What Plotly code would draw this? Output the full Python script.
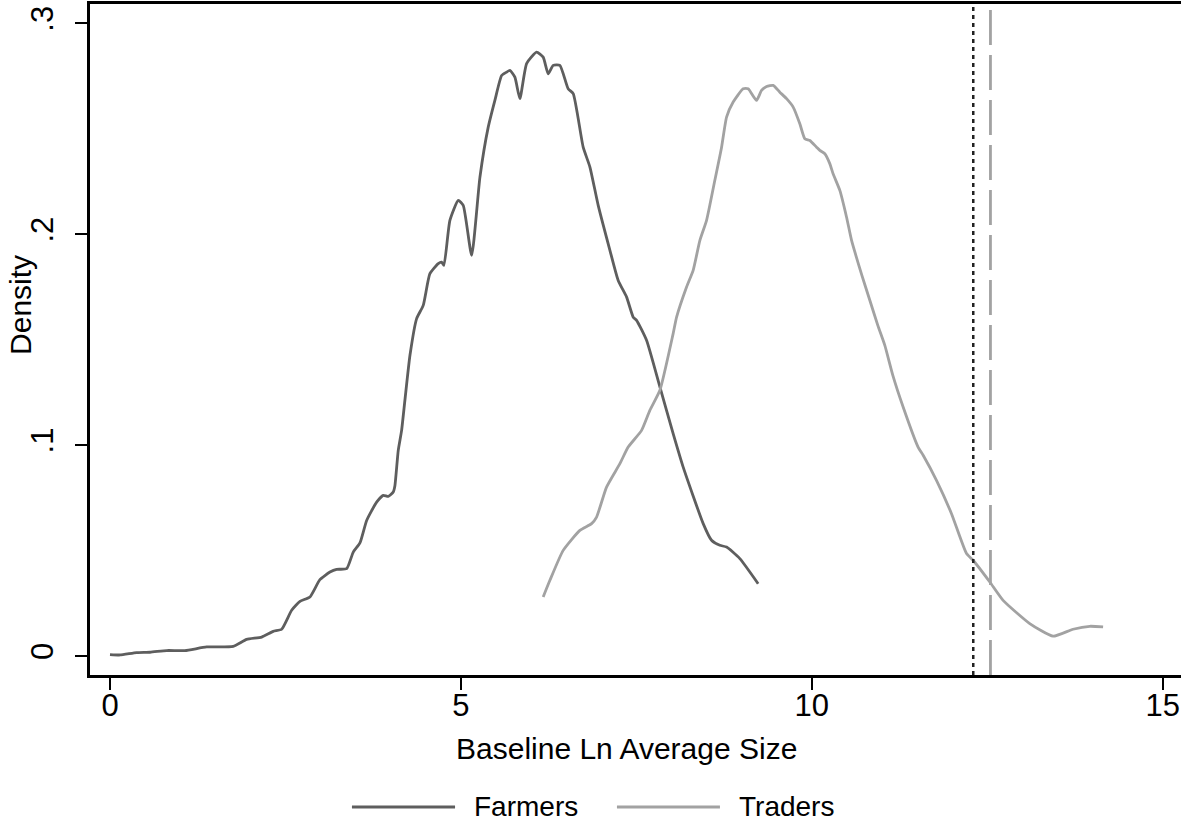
import plotly.graph_objects as go

# Kernel density estimates of baseline log average size
farmers_x = [0.00, 0.142, 0.380, 0.570, 0.808, 1.068, 1.377, 1.756, 1.947, 2.161, 2.326, 2.446,
             2.588, 2.707, 2.849, 2.991, 3.134, 3.229, 3.372, 3.466, 3.561, 3.657, 3.799, 3.893,
             3.964, 4.036, 4.060, 4.107, 4.155, 4.202, 4.274, 4.369, 4.463, 4.558, 4.677, 4.725,
             4.758, 4.843, 4.962, 5.033, 5.153, 5.271, 5.389, 5.484, 5.580, 5.651, 5.698, 5.769,
             5.840, 5.936, 6.078, 6.172, 6.243, 6.315, 6.410, 6.528, 6.600, 6.742, 6.838, 6.956,
             7.123, 7.241, 7.361, 7.455, 7.503, 7.645, 7.835, 8.024, 8.167, 8.452, 8.571, 8.689,
             8.785, 8.974, 9.235]
farmers_y = [0.0007, 0.0005, 0.0016, 0.0018, 0.0026, 0.0026, 0.0043, 0.0046, 0.0079, 0.0090, 0.0117, 0.0127,
             0.0217, 0.0259, 0.0280, 0.0362, 0.0398, 0.0411, 0.0414, 0.0493, 0.0536, 0.0643, 0.0730, 0.0762,
             0.0757, 0.0778, 0.0809, 0.0975, 0.1070, 0.1213, 0.1426, 0.1600, 0.1663, 0.1813, 0.1861, 0.1868,
             0.1853, 0.2066, 0.2161, 0.2137, 0.1900, 0.2271, 0.2508, 0.2635, 0.2753, 0.2769, 0.2777, 0.2745,
             0.2643, 0.2809, 0.2864, 0.2840, 0.2761, 0.2801, 0.2801, 0.2690, 0.2667, 0.2413, 0.2319, 0.2137,
             0.1924, 0.1781, 0.1702, 0.1607, 0.1592, 0.1497, 0.1276, 0.1055, 0.0896, 0.0628, 0.0549, 0.0525,
             0.0517, 0.0462, 0.0343]

traders_x = [6.172, 6.268, 6.457, 6.695, 6.862, 6.933, 7.075, 7.265, 7.383, 7.574, 7.692, 7.835,
             8.024, 8.073, 8.215, 8.309, 8.405, 8.500, 8.618, 8.714, 8.785, 8.879, 9.021, 9.093,
             9.212, 9.283, 9.355, 9.449, 9.544, 9.640, 9.734, 9.829, 9.900, 9.972, 10.067, 10.114,
             10.185, 10.256, 10.303, 10.399, 10.494, 10.566, 10.627, 10.712, 10.826, 10.940, 11.040,
             11.154, 11.301, 11.514, 11.586, 11.776, 11.990, 12.204, 12.298, 12.536, 12.725, 13.105,
             13.437, 13.722, 13.960, 14.150]
traders_y = [0.0280, 0.0359, 0.0501, 0.0596, 0.0628, 0.0659, 0.0801, 0.0912, 0.0991, 0.1070, 0.1165, 0.1260,
             0.1529, 0.1607, 0.1750, 0.1829, 0.1971, 0.2066, 0.2256, 0.2413, 0.2556, 0.2627, 0.2690, 0.2690,
             0.2635, 0.2682, 0.2701, 0.2706, 0.2674, 0.2643, 0.2603, 0.2524, 0.2453, 0.2445, 0.2413, 0.2398,
             0.2382, 0.2335, 0.2287, 0.2208, 0.2082, 0.1971, 0.1900, 0.1806, 0.1687, 0.1568, 0.1473,
             0.1331, 0.1181, 0.0991, 0.0952, 0.0833, 0.0675, 0.0486, 0.0454, 0.0351, 0.0264, 0.0154,
             0.0094, 0.0127, 0.0141, 0.0138]

# Reference thresholds (vertical lines)
threshold_farmers = 12.30
threshold_traders = 12.545

x_ticks = [0, 5, 10, 15]
x_tick_labels = ["0", "5", "10", "15"]
y_ticks = [0, 0.1, 0.2, 0.3]
y_tick_labels = ["0", ".1", ".2", ".3"]

series_names = ["Farmers", "Traders"]
FARM_COL = "#5e5e5e"
TRADE_COL = "#a2a2a2"
FONT = "Liberation Sans, Arial, Helvetica, sans-serif"

fig = go.Figure()
fig.add_trace(go.Scatter(x=farmers_x, y=farmers_y, mode="lines", name=series_names[0],
                         line=dict(color=FARM_COL, width=2.8, shape="spline", smoothing=0.5),
                         showlegend=False))
fig.add_trace(go.Scatter(x=traders_x, y=traders_y, mode="lines", name=series_names[1],
                         line=dict(color=TRADE_COL, width=2.8, shape="spline", smoothing=0.5),
                         showlegend=False))

# vertical reference lines spanning the plot height
fig.add_shape(type="line", xref="x", yref="paper", x0=threshold_farmers, x1=threshold_farmers,
              y0=0, y1=1, line=dict(color="#222222", width=2.5, dash="4px,4px"))
fig.add_shape(type="line", xref="x", yref="paper", x0=threshold_traders, x1=threshold_traders,
              y0=0, y1=1, line=dict(color="#a2a2a2", width=2.8, dash="35px,10px"))

# legend drawn below the plot
legend_y = -0.1967
for (x0, x1, tx, col, name) in [(0.2401, 0.3346, 0.3501, FARM_COL, series_names[0]),
                                 (0.4830, 0.5774, 0.5930, TRADE_COL, series_names[1])]:
    fig.add_shape(type="line", xref="paper", yref="paper", x0=x0, x1=x1, y0=legend_y, y1=legend_y,
                  line=dict(color=col, width=2.8))
    fig.add_annotation(xref="paper", yref="paper", x=tx, y=legend_y, text=name, showarrow=False,
                       xanchor="left", yanchor="middle", font=dict(family=FONT, size=28, color="black"))

# axis titles
fig.add_annotation(xref="paper", yref="paper", x=0.4922, y=-0.1088, text="Baseline Ln Average Size",
                   showarrow=False, xanchor="center", yanchor="middle",
                   font=dict(family=FONT, size=30, color="black"))
fig.add_annotation(xref="paper", yref="paper", x=-0.0642, y=0.5514, text="Density", textangle=-90,
                   showarrow=False, xanchor="center", yanchor="middle",
                   font=dict(family=FONT, size=30, color="black"))

fig.update_layout(
    width=1181, height=825,
    margin=dict(l=90, r=0, t=4, b=150),
    paper_bgcolor="white", plot_bgcolor="white",
    font=dict(family=FONT, size=30, color="black"),
    showlegend=False,
)
fig.update_xaxes(range=[-0.285, 15.26], tickvals=x_ticks, ticktext=x_tick_labels,
                 showgrid=False, zeroline=False, showline=True, linecolor="black", linewidth=2.5,
                 mirror=True, ticks="outside", ticklen=12, tickwidth=2, tickcolor="black",
                 ticklabelstandoff=-11, tickfont=dict(family=FONT, size=31))
fig.update_yaxes(range=[-0.009, 0.3092], tickvals=y_ticks, ticktext=y_tick_labels,
                 showgrid=False, zeroline=False, showline=True, linecolor="black", linewidth=2.5,
                 ticks="outside", ticklen=12, tickwidth=2, tickcolor="black", tickangle=-90,
                 ticklabelstandoff=10, tickfont=dict(family=FONT, size=31))

fig.write_html("out.html")
